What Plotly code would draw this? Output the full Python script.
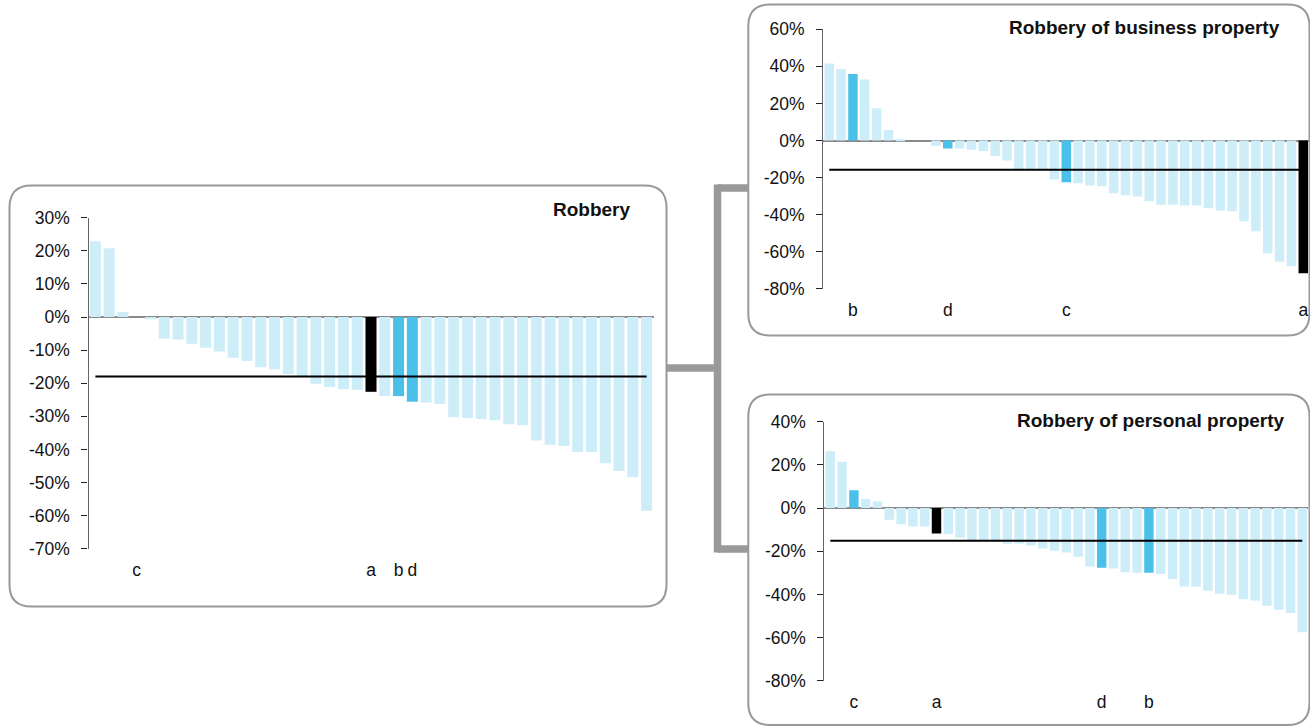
import plotly.graph_objects as go

W, H = 1310, 727

# ---------------- data ----------------
robbery = [22.9, 20.8, 1.5, 0.0, -0.7, -6.6, -6.8, -8.1, -9.3, -10.4,
           -12.3, -13.3, -15.2, -15.8, -17.2, -17.8, -20.2, -21.1, -21.8, -22.0,
           -22.6, -23.9, -23.9, -25.6, -25.8, -26.2, -30.3, -30.5, -30.8, -31.2,
           -32.4, -32.7, -37.3, -38.6, -39.0, -40.8, -40.8, -44.2, -46.5, -48.4, -58.5]
robbery_mean = -18.0
robbery_marks = {4: "c", 21: "a", 23: "b", 24: "d"}

business = [41.5, 38.6, 35.9, 32.9, 17.4, 5.6, 0.7, 0.0, 0.0, -2.9,
            -4.3, -4.3, -5.0, -5.6, -8.4, -10.8, -15.3, -15.3, -15.5, -21.0,
            -22.5, -23.0, -24.3, -24.6, -28.4, -29.5, -30.2, -32.7, -34.7, -34.7,
            -35.0, -35.0, -36.5, -37.7, -38.1, -43.5, -48.9, -60.8, -65.4, -67.8, -71.5]
business_mean = -15.8
business_marks = {3: "b", 11: "d", 21: "c", 41: "a"}

personal = [26.3, 21.4, 8.2, 4.2, 3.1, -5.4, -7.5, -8.6, -8.6, -11.8,
            -12.2, -13.8, -14.8, -14.9, -15.0, -16.5, -16.5, -17.4, -18.8, -19.8,
            -20.6, -22.6, -27.1, -27.7, -28.0, -29.7, -30.0, -30.0, -30.6, -32.9,
            -36.3, -36.5, -38.3, -39.7, -40.2, -42.2, -42.8, -45.2, -47.1, -48.6, -57.5]
personal_mean = -15.2
personal_marks = {3: "c", 10: "a", 24: "d", 28: "b"}

robbery_ticks = [30, 20, 10, 0, -10, -20, -30, -40, -50, -60, -70]
right_ticks_top = [60, 40, 20, 0, -20, -40, -60, -80]
right_ticks_bottom = [40, 20, 0, -20, -40, -60, -80]

titles = ["Robbery", "Robbery of business property", "Robbery of personal property"]

# ---------------- style ----------------
LIGHT = "#CDEDF9"
BLUE = "#4BC1EA"
BLACK = "#000000"
GRAY = "#999999"
FONT = "Liberation Sans, Arial, sans-serif"


def px(x):
    return x / W


def py(y):
    return 1 - y / H


fig = go.Figure()

panels = [
    dict(vals=robbery, mean=robbery_mean, marks=robbery_marks, ticks=robbery_ticks,
         xdom=(88.5, 653.5), ydom=(548.7, 217.7), yr=(-70, 30), title=titles[0],
         tpos=(633, 210)),
    dict(vals=business, mean=business_mean, marks=business_marks, ticks=right_ticks_top,
         xdom=(823.3, 1309.2), ydom=(288.9, 29.2), yr=(-80, 60), title=titles[1],
         tpos=(1282, 28)),
    dict(vals=personal, mean=personal_mean, marks=personal_marks, ticks=right_ticks_bottom,
         xdom=(824.4, 1308.2), ydom=(680.8, 421.6), yr=(-80, 40), title=titles[2],
         tpos=(1287, 420)),
]

for i, p in enumerate(panels):
    n = len(p["vals"])
    xs = list(range(1, n + 1))
    colors = []
    for k in xs:
        if k in p["marks"]:
            colors.append(BLACK if p["marks"][k] == "a" else BLUE)
        else:
            colors.append(LIGHT)
    ax = "" if i == 0 else str(i + 1)
    fig.add_trace(go.Bar(x=xs, y=p["vals"], marker=dict(color=colors, line=dict(width=0)),
                         width=0.8, xaxis="x" + ax, yaxis="y" + ax, showlegend=False))
    fig.add_trace(go.Scatter(x=[xs[0], xs[-1]], y=[p["mean"], p["mean"]], mode="lines",
                             line=dict(color="black", width=2), xaxis="x" + ax,
                             yaxis="y" + ax, showlegend=False))
    tv = sorted(p["marks"].keys())
    fig.update_layout(**{
        "xaxis" + ax: dict(domain=[px(p["xdom"][0]), px(p["xdom"][1])],
                           range=[0.5, n + 0.5], anchor="y" + ax, automargin=False,
                           tickvals=tv, ticktext=[p["marks"][k] for k in tv],
                           tickangle=0, ticks="", showline=False, showgrid=False,
                           zeroline=False, ticklabelstandoff=9,
                           tickfont=dict(family=FONT, size=17.5, color="#111")),
        "yaxis" + ax: dict(domain=[py(p["ydom"][0]), py(p["ydom"][1])],
                           range=list(p["yr"]), anchor="x" + ax, automargin=False,
                           tickvals=p["ticks"], ticktext=[f"{t}%" for t in p["ticks"]],
                           ticks="outside", ticklen=6, tickcolor="#222", tickwidth=1,
                           showline=True, linecolor="#666", linewidth=1.3,
                           showgrid=False, zeroline=True, zerolinecolor="#8a8a8a",
                           zerolinewidth=1.5, ticklabelstandoff=8,
                           tickfont=dict(family=FONT, size=17.5, color="#111")),
    })
    fig.add_annotation(x=px(p["tpos"][0]), y=py(p["tpos"][1]), xref="paper", yref="paper",
                       text="<b>" + p["title"] + "</b>", showarrow=False,
                       xanchor="right", yanchor="middle",
                       font=dict(family=FONT, size=19, color="#111"))


def rounded(x0, y0, x1, y1, r):
    pts = [
        ("M", [(x0 + r, y0)]), ("L", [(x1 - r, y0)]), ("Q", [(x1, y0), (x1, y0 + r)]),
        ("L", [(x1, y1 - r)]), ("Q", [(x1, y1), (x1 - r, y1)]), ("L", [(x0 + r, y1)]),
        ("Q", [(x0, y1), (x0, y1 - r)]), ("L", [(x0, y0 + r)]), ("Q", [(x0, y0), (x0 + r, y0)]),
    ]
    s = ""
    for cmd, cs in pts:
        s += cmd + " " + " ".join(f"{px(a):.5f},{py(b):.5f}" for a, b in cs) + " "
    return s + "Z"


boxes = [(9.5, 185.5, 666.5, 606.5), (748.3, 4.5, 1309.5, 335.5), (748.3, 394.5, 1309.5, 725)]
for b in boxes:
    fig.add_shape(type="path", path=rounded(*b, 22), xref="paper", yref="paper",
                  line=dict(color=GRAY, width=2), layer="below")

conn = [
    (717.5, 184.5, 717.5, 552.5),
    (717.5, 188, 748, 188),
    (666.5, 368, 721, 368),
    (717.5, 549, 748, 549),
]
for x0, y0, x1, y1 in conn:
    fig.add_shape(type="line", x0=px(x0), y0=py(y0), x1=px(x1), y1=py(y1),
                  xref="paper", yref="paper", line=dict(color=GRAY, width=7.5))

fig.update_layout(width=W, height=H, autosize=False, margin=dict(l=0, r=0, t=0, b=0, pad=0),
                  paper_bgcolor="white", plot_bgcolor="rgba(0,0,0,0)",
                  bargap=0.2, font=dict(family=FONT))

fig.write_html("out.html", config={"responsive": False, "displayModeBar": False},
               post_script="document.body.style.margin='0';document.body.style.padding='0';"
                           "document.body.style.overflow='hidden';")
